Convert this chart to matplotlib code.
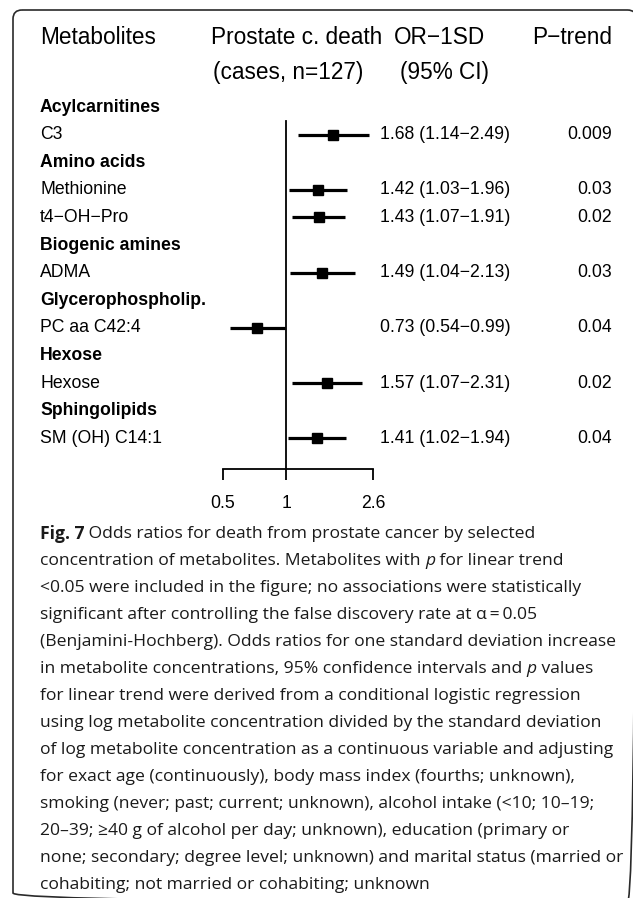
import matplotlib
matplotlib.use("Agg")
import matplotlib.pyplot as plt
from matplotlib.patches import FancyBboxPatch
from matplotlib.ticker import FixedLocator, FixedFormatter, NullLocator

# ---------------- data ----------------
groups = ['Acylcarnitines', 'Amino acids', 'Biogenic amines',
          'Glycerophospholip.', 'Hexose', 'Sphingolipids']
metabolites = ['C3', 'Methionine', 't4\u2212OH\u2212Pro', 'ADMA',
               'PC aa C42:4', 'Hexose', 'SM (OH) C14:1']
metabolite_group = [0, 1, 1, 2, 3, 4, 5]
or_vals = [1.68, 1.42, 1.43, 1.49, 0.73, 1.57, 1.41]
ci_low = [1.14, 1.03, 1.07, 1.04, 0.54, 1.07, 1.02]
ci_high = [2.49, 1.96, 1.91, 2.13, 0.99, 2.31, 1.94]
p_trend = ['0.009', '0.03', '0.02', '0.03', '0.04', '0.02', '0.04']
x_ticks = [0.5, 1, 2.6]
x_tick_labels = ['0.5', '1', '2.6']

header1 = ['Metabolites', 'Prostate c. death', 'OR\u22121SD', 'P\u2212trend']
header2 = ['(cases, n=127)', '(95% CI)']

caption_lines = [
    [("Fig. 7", "bold"), (" Odds ratios for death from prostate cancer by selected", "normal")],
    [("concentration of metabolites. Metabolites with ", "normal"), ("p", "italic"), (" for linear trend", "normal")],
    [("<0.05 were included in the figure; no associations were statistically", "normal")],
    [("significant after controlling the false discovery rate at \u03b1\u2009=\u20090.05", "normal")],
    [("(Benjamini-Hochberg). Odds ratios for one standard deviation increase", "normal")],
    [("in metabolite concentrations, 95% confidence intervals and ", "normal"), ("p", "italic"), (" values", "normal")],
    [("for linear trend were derived from a conditional logistic regression", "normal")],
    [("using log metabolite concentration divided by the standard deviation", "normal")],
    [("of log metabolite concentration as a continuous variable and adjusting", "normal")],
    [("for exact age (continuously), body mass index (fourths; unknown),", "normal")],
    [("smoking (never; past; current; unknown), alcohol intake (<10; 10\u201319;", "normal")],
    [("20\u201339; \u226540 g of alcohol per day; unknown), education (primary or", "normal")],
    [("none; secondary; degree level; unknown) and marital status (married or", "normal")],
    [("cohabiting; not married or cohabiting; unknown", "normal")],
]

# ---------------- figure ----------------
W, H = 633, 898
fig = plt.figure(figsize=(W / 100, H / 100), dpi=100)
fig.patch.set_facecolor('white')

SANS = ['Liberation Sans', 'DejaVu Sans']
CAP = ['Open Sans', 'DejaVu Sans']

# background axes in pixel coordinates
bg = fig.add_axes([0, 0, 1, 1], zorder=0)
bg.set_xlim(0, W)
bg.set_ylim(H, 0)
bg.axis('off')
box = FancyBboxPatch((13, 10), 623.5, 892, boxstyle="round,pad=0,rounding_size=9",
                     fill=False, edgecolor='#2a2a2a', linewidth=1.2, clip_on=False)
bg.add_patch(box)

# row layout
row0 = 107.0
row_h = 27.6
rows = []  # (kind, index)
for gi, g in enumerate(groups):
    rows.append(('group', gi))
    for mi, mg in enumerate(metabolite_group):
        if mg == gi:
            rows.append(('met', mi))

def ypix(r):
    return row0 + row_h * r

# forest axes
ax_top, ax_bot = 100, 469
ax = fig.add_axes([223 / W, 1 - ax_bot / H, 150 / W, (ax_bot - ax_top) / H], zorder=2)
ax.set_xscale('log')
ax.set_xlim(0.5, 2.6)
ax.set_ylim(ax_bot, ax_top)
ax.patch.set_alpha(0)
for s in ['left', 'right', 'top']:
    ax.spines[s].set_visible(False)
ax.spines['bottom'].set_linewidth(1.3)
ax.yaxis.set_major_locator(NullLocator())
ax.xaxis.set_major_locator(FixedLocator(x_ticks))
ax.xaxis.set_major_formatter(FixedFormatter(x_tick_labels))
ax.xaxis.set_minor_locator(NullLocator())
ax.tick_params(axis='x', direction='out', length=8, width=1.3, pad=11,
               labelsize=12.7, colors='black')
for lab in ax.get_xticklabels():
    lab.set_family(SANS)

first_met_row = None
for r, (kind, idx) in enumerate(rows):
    if kind == 'met':
        y = ypix(r)
        if first_met_row is None:
            first_met_row = r
        ax.plot([ci_low[idx], ci_high[idx]], [y, y], color='black', lw=2.3,
                solid_capstyle='butt', clip_on=False, zorder=3)
        ax.plot([or_vals[idx]], [y], marker='s', ms=7.3, color='black',
                clip_on=False, zorder=4)

ax.plot([1, 1], [ypix(first_met_row) - row_h * 0.5, ax_bot], color='black',
        lw=1.3, clip_on=False, zorder=2)

# text
hs = 16.3
bg.text(40, 38, header1[0], fontsize=hs, family=SANS, va='center', ha='left')
bg.text(211, 38, header1[1], fontsize=hs, family=SANS, va='center', ha='left')
bg.text(394, 38, header1[2], fontsize=hs, family=SANS, va='center', ha='left')
bg.text(612, 38, header1[3], fontsize=hs, family=SANS, va='center', ha='right')
bg.text(213, 72, header2[0], fontsize=hs, family=SANS, va='center', ha='left')
bg.text(400, 72, header2[1], fontsize=hs, family=SANS, va='center', ha='left')

rs = 12.7
for r, (kind, idx) in enumerate(rows):
    y = ypix(r)
    if kind == 'group':
        bg.text(40, y, groups[idx], fontsize=rs, family=SANS, fontweight='bold',
                va='center', ha='left')
    else:
        bg.text(40, y, metabolites[idx], fontsize=rs, family=SANS, va='center', ha='left')
        bg.text(380, y, f"{or_vals[idx]:.2f} ({ci_low[idx]:.2f}\u2212{ci_high[idx]:.2f})",
                fontsize=rs, family=SANS, va='center', ha='left')
        bg.text(612, y, p_trend[idx], fontsize=rs, family=SANS, va='center', ha='right')

# caption
fig.canvas.draw()
renderer = fig.canvas.get_renderer()
cs = 12.6
cap_y0 = 534
cap_dy = 27.0

def measure(s, weight, style):
    t1 = bg.text(0, 0, s + '|', fontsize=cs, family=CAP, fontweight=weight, fontstyle=style)
    t2 = bg.text(0, 0, '|', fontsize=cs, family=CAP, fontweight=weight, fontstyle=style)
    w = t1.get_window_extent(renderer).width - t2.get_window_extent(renderer).width
    t1.remove(); t2.remove()
    return w

for k, line in enumerate(caption_lines):
    x = 40.0
    y = cap_y0 + cap_dy * k
    for s, sty in line:
        weight = 'bold' if sty == 'bold' else 'normal'
        style = 'italic' if sty == 'italic' else 'normal'
        bg.text(x, y, s, fontsize=cs, family=CAP, fontweight=weight, fontstyle=style,
                va='center', ha='left', color='#1a1a1a')
        x += measure(s, weight, style)

fig.savefig('out.png', dpi=100)
